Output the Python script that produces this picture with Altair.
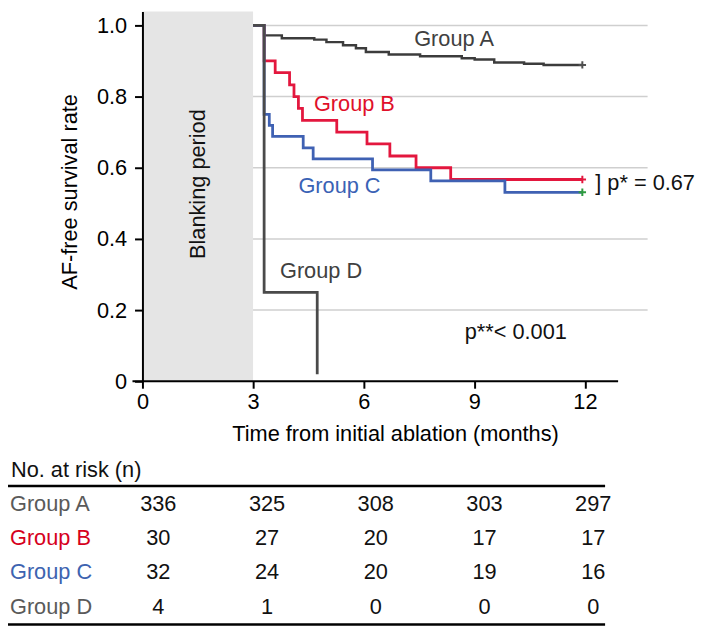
import altair as alt
import pandas as pd

# ---------------- data ----------------
a_time = [3.0, 3.3, 3.78, 4.66, 4.99, 5.44, 5.79, 6.06, 6.68, 7.53, 8.66, 9.01, 9.54, 10.35, 10.88, 11.93]
a_surv = [1.0, 0.972, 0.964, 0.960, 0.953, 0.944, 0.936, 0.925, 0.918, 0.913, 0.908, 0.904, 0.896, 0.892, 0.889, 0.889]
b_time = [3.0, 3.3, 3.60, 3.99, 4.11, 4.23, 4.34, 5.27, 6.09, 6.71, 7.42, 8.36, 11.93]
b_surv = [1.0, 0.900, 0.867, 0.833, 0.800, 0.767, 0.733, 0.700, 0.667, 0.633, 0.600, 0.567, 0.567]
c_time = [3.0, 3.3, 3.44, 3.53, 4.36, 4.63, 6.24, 7.82, 9.83, 11.93]
c_surv = [1.0, 0.750, 0.719, 0.688, 0.656, 0.625, 0.594, 0.563, 0.531, 0.531]
d_time = [3.0, 3.3, 4.74]
d_surv = [1.0, 0.25, 0.02]

censor_time = [11.93, 11.93, 11.93]
censor_surv = [0.889, 0.567, 0.531]
censor_color = ["#505050", "#e3173e", "#2e9b3f"]

ann_text = ["Group A", "Group B", "Group C", "Group D", "p**< 0.001", "] p* = 0.67"]
ann_time = [7.37, 4.65, 4.23, 3.73, 8.74, 12.28]
ann_surv = [0.942, 0.760, 0.528, 0.290, 0.1186, 0.5375]
ann_color = ["#404040", "#e0102a", "#3a62b5", "#404040", "#111111", "#111111"]

blank_label = "Blanking period"
blank_end = 3.0

x_ticks = [0, 3, 6, 9, 12]
y_ticks = [0, 0.2, 0.4, 0.6, 0.8, 1.0]
grid_vals = [0.2, 0.4, 0.6, 0.8, 1.0]

table_groups = ["Group A", "Group B", "Group C", "Group D"]
table_colors = ["#5a5a5a", "#d6001c", "#3d63b0", "#5a5a5a"]
risk_a = [336, 325, 308, 303, 297]
risk_b = [30, 27, 20, 17, 17]
risk_c = [32, 24, 20, 19, 16]
risk_d = [4, 1, 0, 0, 0]
table_header = "No. at risk (n)"

# ---------------- layout ----------------
FONT = "Liberation Sans"
FS = 22
PX_PER_MONTH = 37.3
PX_PER_UNIT = 360.0
W, H = 511, 374
X_MAX = W / PX_PER_MONTH
Y_MAX = H / PX_PER_UNIT

xs = alt.Scale(domain=[0, X_MAX], nice=False, zero=False)
ys = alt.Scale(domain=[0, Y_MAX], nice=False, zero=False)

x_axis = alt.Axis(values=x_ticks, format="d", domain=False, grid=False, ticks=True,
                  tickSize=7, tickWidth=2, tickColor="black",
                  labelFontSize=FS, labelFont=FONT, labelColor="black", labelPadding=4,
                  labelFlush=False, labelOverlap=False,
                  title="Time from initial ablation (months)", titleFontSize=FS, titleFont=FONT,
                  titleFontWeight="normal", titleColor="black", titleBaseline="alphabetic",
                  titleY=60, zindex=1)
y_axis = alt.Axis(values=y_ticks, labelExpr="datum.value == 0 ? '0' : format(datum.value, '.1f')",
                  domain=True, domainColor="black", domainWidth=2, grid=False,
                  tickSize=8, tickWidth=2, tickColor="black",
                  labelFontSize=FS, labelFont=FONT, labelColor="black", labelPadding=8,
                  labelFlush=False, labelOverlap=False,
                  title="AF-free survival rate", titleFontSize=FS, titleFont=FONT,
                  titleFontWeight="normal", titleColor="black",
                  titleX=-62, titleY=182, titleAngle=270, titleBaseline="bottom", zindex=1)


def X():
    return alt.X("t:Q", scale=xs, axis=x_axis)


def Y():
    return alt.Y("s:Q", scale=ys, axis=y_axis)


grid = alt.Chart(pd.DataFrame({"s": grid_vals, "t": [0.0] * len(grid_vals), "t2": [X_MAX] * len(grid_vals)})
                 ).mark_rule(color="#cfcfcf", strokeWidth=1.5).encode(x=X(), x2="t2:Q", y=Y())

blank = alt.Chart(pd.DataFrame({"t": [0.0], "t2": [blank_end], "s": [0.0], "s2": [Y_MAX]})
                  ).mark_rect(color="#e5e5e5").encode(x=X(), x2="t2:Q", y=Y(), y2="s2:Q")

blank_txt = alt.Chart(pd.DataFrame({"t": [blank_end / 2], "s": [0.554], "label": [blank_label]})
                      ).mark_text(angle=270, fontSize=FS, font=FONT, color="#111111",
                                  align="center", baseline="middle").encode(x=X(), y=Y(), text="label:N")


def curve(tt, ss, color, width):
    return alt.Chart(pd.DataFrame({"t": tt, "s": ss})).mark_line(
        interpolate="step-after", color=color, strokeWidth=width).encode(x=X(), y=Y())


curve_a = curve(a_time, a_surv, "#3c3c3c", 2.5)
curve_b = curve(b_time, b_surv, "#e3173e", 2.8)
curve_c = curve(c_time, c_surv, "#3f61b3", 2.8)
curve_d = curve(d_time, d_surv, "#4a4a4a", 2.8)

censor = alt.Chart(pd.DataFrame({"t": censor_time, "s": censor_surv, "col": censor_color})).mark_point(
    shape="M-1,0L1,0M0,-1L0,1", filled=False, size=56, strokeWidth=2, opacity=1
).encode(x=X(), y=Y(), color=alt.Color("col:N", scale=None))

ann = alt.Chart(pd.DataFrame({"t": ann_time, "s": ann_surv, "label": ann_text, "col": ann_color})).mark_text(
    align="left", baseline="alphabetic", fontSize=FS, font=FONT
).encode(x=X(), y=Y(), text="label:N", color=alt.Color("col:N", scale=None))

xline = alt.Chart(pd.DataFrame({"t": [-0.27], "t2": [12.9], "s": [0.0]})).mark_rule(
    color="black", strokeWidth=2).encode(x=X(), x2="t2:Q", y=Y())

main = alt.layer(grid, blank, blank_txt, curve_a, curve_b, curve_c, curve_d, censor, ann, xline)

# ---------------- risk table ----------------
ROW_PX = 34.5
HEADER_PLOT_Y = 464.0
COL_PX = 110.0
COL1_PLOT_X = 16.0
TY0 = -HEADER_PLOT_Y / ROW_PX
TY1 = TY0 + H / ROW_PX
TX0 = 1 - COL1_PLOT_X / COL_PX
TX1 = TX0 + W / COL_PX
tx = alt.Scale(domain=[TX0, TX1], nice=False, zero=False)
ty = alt.Scale(domain=[TY0, TY1], nice=False, zero=False, reverse=True)

rows = []
for k, (g, vals) in enumerate(zip(table_groups, [risk_a, risk_b, risk_c, risk_d]), start=1):
    for c, v in enumerate(vals, start=1):
        rows.append({"k": k, "c": c, "n": str(v)})
num_df = pd.DataFrame(rows)
lab_df = pd.DataFrame({"k": [1, 2, 3, 4], "c": [0] * 4, "label": table_groups, "col": table_colors})
head_df = pd.DataFrame({"k": [0], "c": [0], "label": [table_header]})
line_df = pd.DataFrame({"k": [0.464, 4.52]})

TXE = alt.X("c:Q", scale=tx, axis=None)
TYE = alt.Y("k:Q", scale=ty, axis=None)

nums = alt.Chart(num_df).mark_text(align="center", baseline="middle", fontSize=FS, font=FONT,
                                   color="#111111").encode(x=TXE, y=TYE, text="n:N")
labs = alt.Chart(lab_df).mark_text(align="left", baseline="middle", fontSize=FS, font=FONT, dx=-40
                                   ).encode(x=TXE, y=TYE, text="label:N",
                                            color=alt.Color("col:N", scale=None))
head = alt.Chart(head_df).mark_text(align="left", baseline="middle", fontSize=FS, font=FONT, dx=-39,
                                    color="#111111").encode(x=TXE, y=TYE, text="label:N")
tlines = alt.Chart(line_df).mark_rule(color="black", strokeWidth=2.5).encode(
    x=alt.value(-136), x2=alt.value(468), y=TYE)

table = alt.layer(tlines, head, labs, nums)

chart = alt.layer(main, table).resolve_scale(x="independent", y="independent").properties(
    width=W, height=H,
    padding={"left": 136, "top": 0, "right": 52, "bottom": 248},
    autosize=alt.AutoSizeParams(type="none"),
).configure_view(stroke=None)

chart.save("out.html", embed_options={"renderer": "svg", "actions": False})
